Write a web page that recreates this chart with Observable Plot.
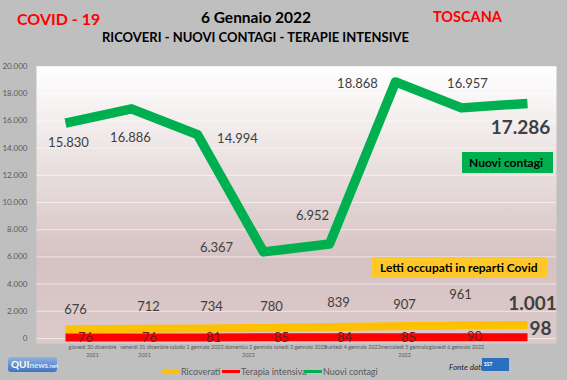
<!DOCTYPE html>
<html><head><meta charset="utf-8">
<script src="https://cdn.jsdelivr.net/npm/d3@7"></script>
<script src="https://cdn.jsdelivr.net/npm/@observablehq/plot@0.6"></script>
<style>
body{margin:0;background:#bfbfbf;}
#wrap{position:relative;width:567px;height:380px;overflow:hidden;background:#bfbfbf;font-family:Lato,"Open Sans",sans-serif;}
.abs{position:absolute;white-space:nowrap;}
#wrap svg{position:absolute;left:0;top:0;}
.box{position:absolute;font-weight:bold;font-size:12px;color:#000;box-sizing:border-box;display:flex;align-items:center;}
.leg{position:absolute;top:366px;font-size:9px;color:#595959;display:flex;align-items:center;}
.sw{display:inline-block;width:18px;height:3px;margin-right:1px;}
</style></head><body>
<div id="wrap">
  <div class="abs" style="left:17px;top:9px;font-size:16px;font-weight:bold;color:#ff0000;">COVID - 19</div>
  <div class="abs" style="left:0;width:512px;text-align:center;top:8px;font-size:15.5px;font-weight:bold;color:#000;">6 Gennaio 2022</div>
  <div class="abs" style="left:0;width:511px;text-align:center;top:29px;font-size:13px;font-weight:bold;color:#000;">RICOVERI - NUOVI CONTAGI - TERAPIE INTENSIVE</div>
  <div class="abs" style="left:433px;top:8px;font-size:14.5px;font-weight:bold;color:#ff0000;">TOSCANA</div>
</div>
<script>
// ---- data ----
const days = ["2021-12-30","2021-12-31","2022-01-01","2022-01-02","2022-01-03","2022-01-04","2022-01-05","2022-01-06"];
const dayLabels = ["giovedì 30 dicembre\n2021","venerdì 31 dicembre\n2021","sabato 1 gennaio 2022","domenica 2 gennaio\n2022","lunedì 3 gennaio 2022","martedì 4 gennaio 2022","mercoledì 5 gennaio\n2022","giovedì 6 gennaio 2022"];
const nuoviContagi = [15830, 16886, 14994, 6367, 6952, 18868, 16957, 17286];
const ricoverati = [676, 712, 734, 780, 839, 907, 961, 1001];
const terapiaIntensiva = [76, 76, 81, 85, 84, 85, 90, 98];
const yTicks = [0, 2000, 4000, 6000, 8000, 10000, 12000, 14000, 16000, 18000, 20000];
const seriesNames = ["Ricoverati", "Terapia intensiva", "Nuovi contagi"];

// ---- rendering ----
const colors = {ric: "#ffc000", ti: "#ff0000", nuovi: "#00b050"};
const it = d3.formatLocale({decimal: ",", thousands: ".", grouping: [3], currency: ["€", ""]});
const fmt = it.format(",d");
const rows = days.map((d, i) => ({day: d, i, nuovi: nuoviContagi[i], ric: ricoverati[i], ti: terapiaIntensiva[i]}));
const last = rows.length - 1;

// label offsets (pixels) mimicking the manual placement of the original
const greenOff = [[3,20],[-1,29],[40,4],[-47,-4],[-17,-28],[-38,2],[6,-24],[-7,24]];
const yellowOff = [[10,-19],[17,-22],[14,-22],[8,-21],[9,-24],[9,-21],[-1,-31],[5,-21]];
const redOff = [[20,0],[18,0],[16,0],[18,0],[15,0],[13,0],[13,0],[13,-8]];

const labelMarks = [];
rows.forEach((r, k) => {
  const big = k === last;
  labelMarks.push(Plot.text([r], {x: "day", y: "nuovi", text: d => fmt(d.nuovi), dx: greenOff[k][0], dy: greenOff[k][1],
    fontSize: big ? 19 : 13, fontWeight: big ? "bold" : "normal", fill: "#404040"}));
  labelMarks.push(Plot.text([r], {x: "day", y: "ric", text: d => fmt(d.ric), dx: yellowOff[k][0], dy: yellowOff[k][1],
    fontSize: big ? 19 : 13, fontWeight: big ? "bold" : "normal", fill: "#404040"}));
  labelMarks.push(Plot.text([r], {x: "day", y: "ti", text: d => fmt(d.ti), dx: redOff[k][0], dy: redOff[k][1],
    fontSize: big ? 19 : 13, fontWeight: big ? "bold" : "normal", fill: big ? "#404040" : "#6a2020"}));
});

const chart = Plot.plot({
  width: 567, height: 380,
  marginLeft: 36, marginRight: 11, marginTop: 66, marginBottom: 37,
  style: {background: "transparent", fontFamily: "Lato, 'Open Sans', sans-serif"},
  x: {type: "point", domain: days, padding: 0.39, axis: null},
  y: {domain: [0, 20000], insetBottom: 5},
  marks: [
    Plot.frame({fill: "url(#bgGrad)", stroke: "none"}),
    Plot.gridY(yTicks, {stroke: "#ffffff", strokeOpacity: 0.55, strokeWidth: 1}),
    Plot.axisY(yTicks, {tickSize: 0, tickPadding: 9, tickFormat: fmt, fontSize: 8, fill: "#595959"}),
    Plot.line(rows, {x: "day", y: "ric", stroke: colors.ric, strokeWidth: 8, strokeLinecap: "butt"}),
    Plot.line(rows, {x: "day", y: "ti", stroke: colors.ti, strokeWidth: 8, strokeLinecap: "butt"}),
    Plot.line(rows, {x: "day", y: "nuovi", stroke: colors.nuovi, strokeWidth: 9.5, strokeLinecap: "butt", strokeLinejoin: "round"}),
    ...labelMarks
  ]
});
const ns = "http://www.w3.org/2000/svg";
const defs = document.createElementNS(ns, "defs");
defs.innerHTML = '<linearGradient id="bgGrad" x1="0" y1="0" x2="0" y2="1">' +
  '<stop offset="0" stop-color="#ffffff"/><stop offset="0.7" stop-color="#d6c2c2"/><stop offset="1" stop-color="#dccaca"/></linearGradient>';
chart.insertBefore(defs, chart.firstChild);

// x-axis labels (the original's category labels are laid out on a tighter spacing than the lines)
const axisChart = Plot.plot({
  width: 567, height: 380,
  marginLeft: 36, marginRight: 11, marginTop: 66, marginBottom: 38,
  style: {background: "transparent", fontFamily: "Lato, 'Open Sans', sans-serif", pointerEvents: "none"},
  x: {type: "point", domain: days, range: [63, 485]},
  marks: [
    Plot.axisX({tickSize: 0, tickPadding: 2, fontSize: 5.4, fill: "#595959", lineHeight: 1.3,
      tickFormat: d => dayLabels[days.indexOf(d)]})
  ]
});

const wrap = document.getElementById("wrap");
wrap.insertBefore(axisChart, wrap.firstChild);
wrap.insertBefore(chart, wrap.firstChild);

// annotation boxes
const box1 = document.createElement("div");
box1.className = "box";
box1.style.cssText = "left:462px;top:152px;width:91px;height:21px;background:#00b050;padding-left:7px;";
box1.textContent = seriesNames[2];
wrap.appendChild(box1);
const box2 = document.createElement("div");
box2.className = "box";
box2.style.cssText = "left:372px;top:257px;width:175px;height:21px;background:#ffc828;padding-left:8px;";
box2.textContent = "Letti occupati in reparti Covid";
wrap.appendChild(box2);

// legend
const legPos = [162, 222, 304];
const legCols = [colors.ric, colors.ti, colors.nuovi];
seriesNames.forEach((n, k) => {
  const el = document.createElement("div");
  el.className = "leg";
  el.style.left = legPos[k] + "px";
  el.innerHTML = `<span class="sw" style="background:${legCols[k]}"></span><span>${n}</span>`;
  wrap.appendChild(el);
});

// logos / source
const logo = document.createElement("div");
logo.className = "abs";
logo.style.cssText = "left:8px;top:357px;width:49px;height:15px;border-radius:3px;background:linear-gradient(#8fb3e0,#3f74c0);color:#fff;font-weight:bold;font-size:10px;line-height:15px;padding-left:3px;box-sizing:border-box;";
logo.innerHTML = 'QUI<span style="font-size:8px;color:#dde8f5">news</span><span style="font-size:6px;font-weight:normal">.net</span>';
wrap.appendChild(logo);
const fonte = document.createElement("div");
fonte.className = "abs";
fonte.style.cssText = "left:449px;top:362px;font-size:8px;font-style:italic;color:#222;";
fonte.textContent = "Fonte dati";
wrap.appendChild(fonte);
const sst = document.createElement("div");
sst.className = "abs";
sst.style.cssText = "left:482px;top:358px;width:27px;height:13px;background:#2a6fc0;color:#fff;font-size:5px;font-weight:bold;line-height:13px;padding-left:2px;box-sizing:border-box;";
sst.textContent = "SST";
wrap.appendChild(sst);
</script>
</body></html>
